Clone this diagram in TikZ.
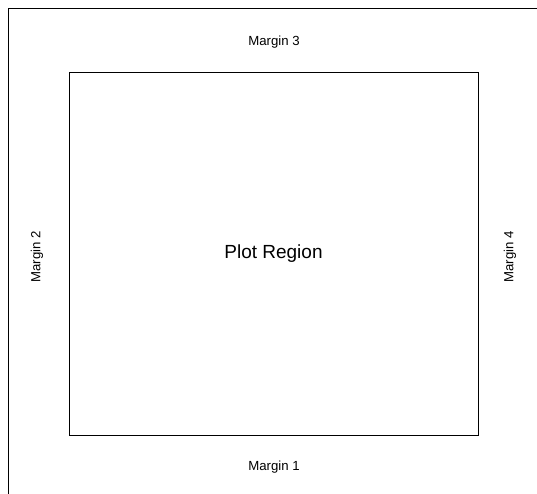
\documentclass[tikz,border=0pt]{standalone}
\usepackage{fontspec}
\setmainfont{Liberation Sans}
\begin{document}
\begin{tikzpicture}[x=1pt,y=-1pt,
  lbl/.style={inner sep=0pt,font=\fontsize{13.2}{15}\selectfont},
  big/.style={inner sep=0pt,font=\fontsize{19}{22}\selectfont},
  frame/.style={draw=black,line width=0.8pt}]
\useasboundingbox (0,0) rectangle (537,494);
\coordinate (tl) at (8,8);
\coordinate (tr) at (537,8);
\coordinate (bl) at (8,494);
\draw[frame] (tr) -- (tl) -- (bl);
\node[draw=black,line width=0.8pt,minimum width=409pt,minimum height=363pt,inner sep=0pt] (plot) at (273.5,253.5) {};
\node[big] (pr) at (273.5,253.5) {Plot Region};
\node[lbl] (m3) at (274,42.5) {Margin 3};
\node[lbl] (m1) at (274,467.5) {Margin 1};
\node[lbl,rotate=90] (m2) at (37,257) {Margin 2};
\node[lbl,rotate=90] (m4) at (510,257) {Margin 4};
\end{tikzpicture}
\end{document}
